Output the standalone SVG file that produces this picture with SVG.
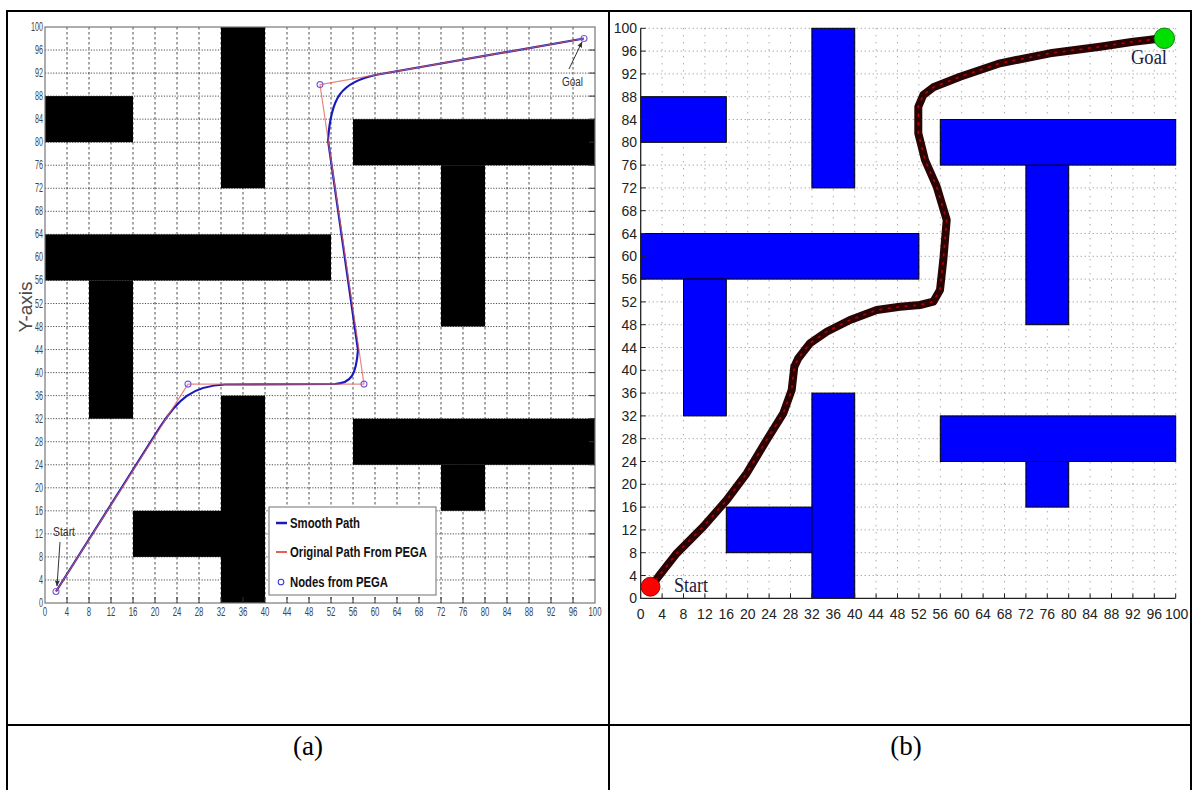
<svg xmlns="http://www.w3.org/2000/svg" width="1197" height="790" viewBox="0 0 1197 790">
<style>
.tbl{stroke:#000;stroke-width:2;fill:none}
.lgv{stroke:#3a3a3a;stroke-width:0.9;stroke-dasharray:2.5,2.5;fill:none}
.lgh{stroke:#3a3a3a;stroke-width:0.9;stroke-dasharray:1.2,1.5;fill:none}
.obsA{fill:#000}
.obsB{fill:#0000ff;stroke:#000;stroke-width:1}
.rgv{stroke:#888;stroke-width:1;stroke-dasharray:1,6;fill:none}
.rgh{stroke:#888;stroke-width:1;stroke-dasharray:1,3;fill:none}
.lt{font-family:"Liberation Sans",Arial,sans-serif;font-size:13px;fill:#444}
.rt{font-family:"Liberation Sans",Arial,sans-serif;font-size:14px;fill:#222}
.cap{font-family:"Liberation Serif","Times New Roman",serif;font-size:27px;fill:#000;text-anchor:middle}
.lg{font-family:"Liberation Sans",Arial,sans-serif;font-weight:bold;font-size:14px;fill:#111}
.tms{font-family:"Liberation Serif","Times New Roman",serif;font-size:20px;fill:#1a1a40}
</style>
<defs>
<marker id="ah" viewBox="0 0 10 10" refX="9" refY="5" markerWidth="6" markerHeight="6" orient="auto-start-reverse">
<path d="M0,1 L10,5 L0,9 z" fill="#333"/>
</marker>
</defs>
<rect width="1197" height="790" fill="#fff"/>

<g id="table">
<path class="tbl" d="M7 790V11H1191V790M609 11V790M7 725H1191"/>
</g>

<g id="panel-a">
<g id="grid-a">
<path class="lgv" d="M67 27V603M89 27V603M111 27V603M133 27V603M155 27V603M177 27V603M199 27V603M221 27V603M243 27V603M265 27V603M287 27V603M309 27V603M331 27V603M353 27V603M375 27V603M397 27V603M419 27V603M441 27V603M463 27V603M485 27V603M507 27V603M529 27V603M551 27V603M573 27V603"/>
<path class="lgh" d="M45 579.96H595M45 556.92H595M45 533.88H595M45 510.84H595M45 487.8H595M45 464.76H595M45 441.72H595M45 418.68H595M45 395.64H595M45 372.6H595M45 349.56H595M45 326.52H595M45 303.48H595M45 280.44H595M45 257.4H595M45 234.36H595M45 211.32H595M45 188.28H595M45 165.24H595M45 142.2H595M45 119.16H595M45 96.12H595M45 73.08H595M45 50.04H595"/>
</g>
<g id="obstacles-a">
<rect class="obsA" x="45" y="96.1" width="88" height="46.1"/>
<rect class="obsA" x="221" y="27" width="44" height="161.3"/>
<rect class="obsA" x="45" y="234.4" width="286" height="46.1"/>
<rect class="obsA" x="89" y="280.4" width="44" height="138.3"/>
<rect class="obsA" x="353" y="119.2" width="242" height="46.1"/>
<rect class="obsA" x="441" y="165.2" width="44" height="161.3"/>
<rect class="obsA" x="221" y="395.6" width="44" height="207.4"/>
<rect class="obsA" x="133" y="510.8" width="88" height="46.1"/>
<rect class="obsA" x="353" y="418.7" width="242" height="46.1"/>
<rect class="obsA" x="441" y="464.8" width="44" height="46"/>
</g>
<g id="frame-a">
<rect x="45" y="27" width="550" height="576" fill="none" stroke="#777" stroke-width="1.2"/>
<path stroke="#333" stroke-width="1" fill="none" d="M67 603v-6M89 603v-6M111 603v-6M133 603v-6M155 603v-6M177 603v-6M199 603v-6M221 603v-6M243 603v-6M265 603v-6M287 603v-6M309 603v-6M331 603v-6M353 603v-6M375 603v-6M397 603v-6M419 603v-6M441 603v-6M463 603v-6M485 603v-6M507 603v-6M529 603v-6M551 603v-6M573 603v-6M595 579.96h-6M595 556.92h-6M595 533.88h-6M595 510.84h-6M595 487.8h-6M595 464.76h-6M595 441.72h-6M595 418.68h-6M595 395.64h-6M595 372.6h-6M595 349.56h-6M595 326.52h-6M595 303.48h-6M595 280.44h-6M595 257.4h-6M595 234.36h-6M595 211.32h-6M595 188.28h-6M595 165.24h-6M595 142.2h-6M595 119.16h-6M595 96.12h-6M595 73.08h-6M595 50.04h-6"/>
</g>
<g id="ticks-a" class="lt">
<g text-anchor="middle">
<text transform="translate(45,616) scale(0.6,1)">0</text>
<text transform="translate(67,616) scale(0.6,1)">4</text>
<text transform="translate(89,616) scale(0.6,1)">8</text>
<text transform="translate(111,616) scale(0.6,1)">12</text>
<text transform="translate(133,616) scale(0.6,1)">16</text>
<text transform="translate(155,616) scale(0.6,1)">20</text>
<text transform="translate(177,616) scale(0.6,1)">24</text>
<text transform="translate(199,616) scale(0.6,1)">28</text>
<text transform="translate(221,616) scale(0.6,1)">32</text>
<text transform="translate(243,616) scale(0.6,1)">36</text>
<text transform="translate(265,616) scale(0.6,1)">40</text>
<text transform="translate(287,616) scale(0.6,1)">44</text>
<text transform="translate(309,616) scale(0.6,1)">48</text>
<text transform="translate(331,616) scale(0.6,1)">52</text>
<text transform="translate(353,616) scale(0.6,1)">56</text>
<text transform="translate(375,616) scale(0.6,1)">60</text>
<text transform="translate(397,616) scale(0.6,1)">64</text>
<text transform="translate(419,616) scale(0.6,1)">68</text>
<text transform="translate(441,616) scale(0.6,1)">72</text>
<text transform="translate(463,616) scale(0.6,1)">76</text>
<text transform="translate(485,616) scale(0.6,1)">80</text>
<text transform="translate(507,616) scale(0.6,1)">84</text>
<text transform="translate(529,616) scale(0.6,1)">88</text>
<text transform="translate(551,616) scale(0.6,1)">92</text>
<text transform="translate(573,616) scale(0.6,1)">96</text>
<text transform="translate(595,616) scale(0.6,1)">100</text>
</g>
<g text-anchor="end" style="font-size:12px">
<text transform="translate(43,607) scale(0.6,1)">0</text>
<text transform="translate(43,584) scale(0.6,1)">4</text>
<text transform="translate(43,560.9) scale(0.6,1)">8</text>
<text transform="translate(43,537.9) scale(0.6,1)">12</text>
<text transform="translate(43,514.8) scale(0.6,1)">16</text>
<text transform="translate(43,491.8) scale(0.6,1)">20</text>
<text transform="translate(43,468.8) scale(0.6,1)">24</text>
<text transform="translate(43,445.7) scale(0.6,1)">28</text>
<text transform="translate(43,422.7) scale(0.6,1)">32</text>
<text transform="translate(43,399.6) scale(0.6,1)">36</text>
<text transform="translate(43,376.6) scale(0.6,1)">40</text>
<text transform="translate(43,353.6) scale(0.6,1)">44</text>
<text transform="translate(43,330.5) scale(0.6,1)">48</text>
<text transform="translate(43,307.5) scale(0.6,1)">52</text>
<text transform="translate(43,284.4) scale(0.6,1)">56</text>
<text transform="translate(43,261.4) scale(0.6,1)">60</text>
<text transform="translate(43,238.4) scale(0.6,1)">64</text>
<text transform="translate(43,215.3) scale(0.6,1)">68</text>
<text transform="translate(43,192.3) scale(0.6,1)">72</text>
<text transform="translate(43,169.2) scale(0.6,1)">76</text>
<text transform="translate(43,146.2) scale(0.6,1)">80</text>
<text transform="translate(43,123.2) scale(0.6,1)">84</text>
<text transform="translate(43,100.1) scale(0.6,1)">88</text>
<text transform="translate(43,77.1) scale(0.6,1)">92</text>
<text transform="translate(43,54) scale(0.6,1)">96</text>
<text transform="translate(43,31) scale(0.6,1)">100</text>
</g>
<text transform="translate(32,307) rotate(-90)" text-anchor="middle" style="font-size:19px;fill:#4a4a4a">Y-axis</text>
</g>
<g id="paths-a">
<path d="M56 591.5L160 427C178 399 192 386 225 384.5L335 384C352 383 356 374 358 350L328 140C331 98 340 82 378 74.5L584 38.5" fill="none" stroke="#1a1ab8" stroke-width="2.2" stroke-linejoin="round"/>
<path d="M56 591.5L188 384.1L364 384.1L320 84.6L584 38.5" fill="none" stroke="#e0605a" stroke-width="1.2" stroke-opacity="0.75" stroke-linejoin="round"/>
<g fill="none" stroke="#7a5ad8" stroke-width="1.1">
<circle cx="56" cy="591.5" r="3"/>
<circle cx="188" cy="384.1" r="3"/>
<circle cx="364" cy="384.1" r="3"/>
<circle cx="320" cy="84.6" r="3"/>
<circle cx="584" cy="38.5" r="3"/>
</g>
</g>
<g id="start-a">
<text x="53" y="536" textLength="22" lengthAdjust="spacingAndGlyphs" style="font-family:'Liberation Sans',Arial,sans-serif;font-size:13px;fill:#333">Start</text>
<line x1="60" y1="542" x2="57" y2="586" stroke="#333" stroke-width="1" marker-end="url(#ah)"/>
</g>
<g id="goal-a">
<text x="562" y="86" textLength="21" lengthAdjust="spacingAndGlyphs" style="font-family:'Liberation Sans',Arial,sans-serif;font-size:12px;fill:#333">Goal</text>
<line x1="569" y1="69" x2="582" y2="42" stroke="#333" stroke-width="1" marker-end="url(#ah)"/>
</g>
<g id="legend-a">
<rect x="269" y="507" width="167" height="88" fill="#fff" stroke="#888" stroke-width="1.2"/>
<line x1="276" y1="523" x2="287" y2="523" stroke="#1a1ab8" stroke-width="2.5"/>
<text class="lg" x="290" y="528" textLength="70" lengthAdjust="spacingAndGlyphs">Smooth Path</text>
<line x1="276" y1="552" x2="287" y2="552" stroke="#e0605a" stroke-width="2"/>
<text class="lg" x="290" y="557" textLength="137" lengthAdjust="spacingAndGlyphs">Original Path From PEGA</text>
<circle cx="281" cy="582" r="2.8" fill="none" stroke="#3a3ad0" stroke-width="1.1"/>
<text class="lg" x="290" y="587" textLength="98" lengthAdjust="spacingAndGlyphs">Nodes from PEGA</text>
</g>
</g>

<g id="panel-b">
<g id="grid-b">
<path class="rgv" d="M662.1 28.3V598.3M683.5 28.3V598.3M704.9 28.3V598.3M726.3 28.3V598.3M747.7 28.3V598.3M769.1 28.3V598.3M790.5 28.3V598.3M811.9 28.3V598.3M833.3 28.3V598.3M854.7 28.3V598.3M876.1 28.3V598.3M897.5 28.3V598.3M918.9 28.3V598.3M940.3 28.3V598.3M961.7 28.3V598.3M983.1 28.3V598.3M1004.5 28.3V598.3M1025.9 28.3V598.3M1047.3 28.3V598.3M1068.7 28.3V598.3M1090.1 28.3V598.3M1111.5 28.3V598.3M1132.9 28.3V598.3M1154.3 28.3V598.3M1175.7 28.3V598.3"/>
<path class="rgh" d="M640.7 575.5H1175.7M640.7 552.7H1175.7M640.7 529.9H1175.7M640.7 507.1H1175.7M640.7 484.3H1175.7M640.7 461.5H1175.7M640.7 438.7H1175.7M640.7 415.9H1175.7M640.7 393.1H1175.7M640.7 370.3H1175.7M640.7 347.5H1175.7M640.7 324.7H1175.7M640.7 301.9H1175.7M640.7 279.1H1175.7M640.7 256.3H1175.7M640.7 233.5H1175.7M640.7 210.7H1175.7M640.7 187.9H1175.7M640.7 165.1H1175.7M640.7 142.3H1175.7M640.7 119.5H1175.7M640.7 96.7H1175.7M640.7 73.9H1175.7M640.7 51.1H1175.7M640.7 28.3H1175.7"/>
</g>
<g id="obstacles-b">
<rect class="obsB" x="640.7" y="96.7" width="85.6" height="45.6"/>
<rect class="obsB" x="811.9" y="28.3" width="42.8" height="159.6"/>
<rect class="obsB" x="640.7" y="233.5" width="278.2" height="45.6"/>
<rect class="obsB" x="683.5" y="279.1" width="42.8" height="136.8"/>
<rect class="obsB" x="1025.9" y="165.1" width="42.8" height="159.6"/>
<rect class="obsB" x="940.3" y="119.5" width="235.4" height="45.6"/>
<rect class="obsB" x="726.3" y="507.1" width="85.6" height="45.6"/>
<rect class="obsB" x="811.9" y="393.1" width="42.8" height="205.2"/>
<rect class="obsB" x="1025.9" y="461.5" width="42.8" height="45.6"/>
<rect class="obsB" x="940.3" y="415.9" width="235.4" height="45.6"/>
</g>
<g id="axes-b">
<path stroke="#222" stroke-width="1.3" fill="none" d="M640.7 28.3V598.3H1175.7"/>
<path stroke="#222" stroke-width="1" fill="none" d="M662.1 598.3v-5M683.5 598.3v-5M704.9 598.3v-5M726.3 598.3v-5M747.7 598.3v-5M769.1 598.3v-5M790.5 598.3v-5M811.9 598.3v-5M833.3 598.3v-5M854.7 598.3v-5M876.1 598.3v-5M897.5 598.3v-5M918.9 598.3v-5M940.3 598.3v-5M961.7 598.3v-5M983.1 598.3v-5M1004.5 598.3v-5M1025.9 598.3v-5M1047.3 598.3v-5M1068.7 598.3v-5M1090.1 598.3v-5M1111.5 598.3v-5M1132.9 598.3v-5M1154.3 598.3v-5M1175.7 598.3v-5M640.7 575.5h5M640.7 552.7h5M640.7 529.9h5M640.7 507.1h5M640.7 484.3h5M640.7 461.5h5M640.7 438.7h5M640.7 415.9h5M640.7 393.1h5M640.7 370.3h5M640.7 347.5h5M640.7 324.7h5M640.7 301.9h5M640.7 279.1h5M640.7 256.3h5M640.7 233.5h5M640.7 210.7h5M640.7 187.9h5M640.7 165.1h5M640.7 142.3h5M640.7 119.5h5M640.7 96.7h5M640.7 73.9h5M640.7 51.1h5M640.7 28.3h5"/>
</g>
<g id="ticks-b" class="rt">
<g text-anchor="middle">
<text x="640.7" y="619">0</text>
<text x="662.1" y="619">4</text>
<text x="683.5" y="619">8</text>
<text x="704.9" y="619">12</text>
<text x="726.3" y="619">16</text>
<text x="747.7" y="619">20</text>
<text x="769.1" y="619">24</text>
<text x="790.5" y="619">28</text>
<text x="811.9" y="619">32</text>
<text x="833.3" y="619">36</text>
<text x="854.7" y="619">40</text>
<text x="876.1" y="619">44</text>
<text x="897.5" y="619">48</text>
<text x="918.9" y="619">52</text>
<text x="940.3" y="619">56</text>
<text x="961.7" y="619">60</text>
<text x="983.1" y="619">64</text>
<text x="1004.5" y="619">68</text>
<text x="1025.9" y="619">72</text>
<text x="1047.3" y="619">76</text>
<text x="1068.7" y="619">80</text>
<text x="1090.1" y="619">84</text>
<text x="1111.5" y="619">88</text>
<text x="1132.9" y="619">92</text>
<text x="1154.3" y="619">96</text>
<text x="1176.7" y="619">100</text>
</g>
<g text-anchor="end">
<text x="637" y="603.3">0</text>
<text x="637" y="580.5">4</text>
<text x="637" y="557.7">8</text>
<text x="637" y="534.9">12</text>
<text x="637" y="512.1">16</text>
<text x="637" y="489.3">20</text>
<text x="637" y="466.5">24</text>
<text x="637" y="443.7">28</text>
<text x="637" y="420.9">32</text>
<text x="637" y="398.1">36</text>
<text x="637" y="375.3">40</text>
<text x="637" y="352.5">44</text>
<text x="637" y="329.7">48</text>
<text x="637" y="306.9">52</text>
<text x="637" y="284.1">56</text>
<text x="637" y="261.3">60</text>
<text x="637" y="238.5">64</text>
<text x="637" y="215.7">68</text>
<text x="637" y="192.9">72</text>
<text x="637" y="170.1">76</text>
<text x="637" y="147.3">80</text>
<text x="637" y="124.5">84</text>
<text x="637" y="101.7">88</text>
<text x="637" y="78.9">92</text>
<text x="637" y="56.1">96</text>
<text x="637" y="33.3">100</text>
</g>
</g>
<g id="path-b" fill="none" stroke-linejoin="round" stroke-linecap="round">
<path d="M651 587L658.3 576.7L676.7 553.3L703.3 526.7L726.7 500L746.7 473.3L766.7 440L783.3 413.3L791.7 390L794.3 366.7L798.3 358.3L810 343.3L826.7 331.7L850 320L876.7 310L900 306.7L920 305L933.3 301.7L940 290L943.3 260L946.7 220L936.7 186.7L925 160L918.3 133.3L918.3 106.7L923.3 95L933.3 87.3L960 76.7L1000 63.3L1050 53.3L1100 46.7L1133.3 41.7L1148.3 40L1156 39" stroke="#2a0404" stroke-width="8"/>
<path d="M651 587L658.3 576.7L676.7 553.3L703.3 526.7L726.7 500L746.7 473.3L766.7 440L783.3 413.3L791.7 390L794.3 366.7L798.3 358.3L810 343.3L826.7 331.7L850 320L876.7 310L900 306.7L920 305L933.3 301.7L940 290L943.3 260L946.7 220L936.7 186.7L925 160L918.3 133.3L918.3 106.7L923.3 95L933.3 87.3L960 76.7L1000 63.3L1050 53.3L1100 46.7L1133.3 41.7L1148.3 40L1156 39" stroke="#b00000" stroke-width="1.8" stroke-dasharray="1.5,7"/>
</g>
<g id="start-b">
<circle cx="650.5" cy="586.7" r="9.5" fill="#ff0000" stroke="#600" stroke-width="0.8"/>
<text class="tms" x="674" y="592" textLength="34" lengthAdjust="spacingAndGlyphs">Start</text>
</g>
<g id="goal-b">
<circle cx="1164.3" cy="38.3" r="10.3" fill="#00e000" stroke="#060" stroke-width="0.8"/>
<text class="tms" x="1131" y="64" textLength="36" lengthAdjust="spacingAndGlyphs">Goal</text>
</g>
</g>

<g id="captions">
<text class="cap" x="308" y="755">(a)</text>
<text class="cap" x="906" y="755">(b)</text>
</g>
</svg>
